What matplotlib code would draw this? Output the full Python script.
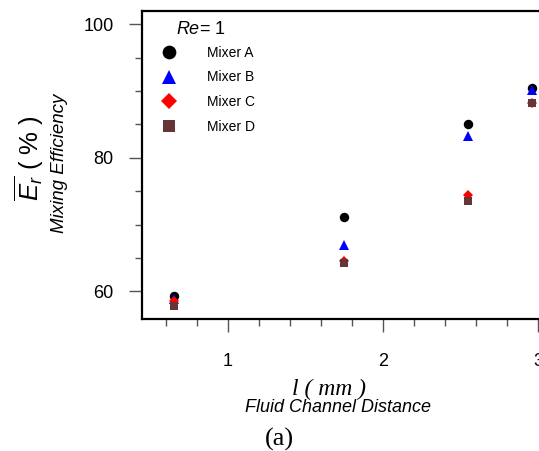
import matplotlib
matplotlib.use('Agg')
import matplotlib.pyplot as plt
from matplotlib.ticker import MultipleLocator

plt.rcParams['font.family'] = ['Liberation Sans', 'DejaVu Sans']
plt.rcParams['mathtext.fontset'] = 'custom'
plt.rcParams['mathtext.rm'] = 'Liberation Sans'
plt.rcParams['mathtext.it'] = 'Liberation Sans:italic'

# channel distance (mm) and mixing efficiency (%) at Re = 1
dist = [0.65, 1.75, 2.55, 2.96]
mixer_a = [59.3, 71.1, 85.0, 90.5]
mixer_b = [58.9, 66.9, 83.2, 90.1]
mixer_c = [58.5, 64.6, 74.5, 88.2]
mixer_d = [57.8, 64.3, 73.5, 88.2]
names = ['Mixer A', 'Mixer B', 'Mixer C', 'Mixer D']

W, H = 539, 451
fig = plt.figure(figsize=(W / 100, H / 100), dpi=100)
ax = fig.add_axes([142 / W, (H - 318.7) / H, 1 - 142 / W, (318.7 - 11) / H])

series = [mixer_a, mixer_b, mixer_c, mixer_d]
marks = ['o', '^', 'D', 's']
cols = ['black', '#0000ff', '#ff0000', '#663535']
sizes = [6.8, 6.5, 5.5, 6.3]
for ys, m, c, s, n in zip(series, marks, cols, sizes, names):
    ax.plot(dist, ys, linestyle='none', marker=m, color=c, markersize=s,
            markeredgewidth=0, label=n, clip_on=False)

ax.set_xlim(0.445, 3.006)
ax.set_ylim(55.9, 102)
ax.xaxis.set_major_locator(MultipleLocator(1))
ax.xaxis.set_minor_locator(MultipleLocator(0.2))
ax.yaxis.set_major_locator(MultipleLocator(20))
ax.yaxis.set_minor_locator(MultipleLocator(5))
ax.tick_params(which='major', length=9.4, width=1, color='#555555',
               labelsize=13, direction='out')
ax.tick_params(axis='x', which='major', pad=15)
ax.tick_params(axis='y', which='major', pad=11)
ax.tick_params(which='minor', length=5, width=1, color='#555555', direction='out')
for side in ['left', 'bottom', 'top']:
    ax.spines[side].set_linewidth(1.6)
ax.spines['right'].set_visible(False)

leg = ax.legend(loc='upper left', bbox_to_anchor=(0.019, 0.905), frameon=False,
                fontsize=10, markerscale=1.45, handlelength=2.0,
                handletextpad=1.75, labelspacing=0.77, borderaxespad=0)
ax.text(0.149, 0.94, '$Re$= 1', transform=ax.transAxes, fontsize=13,
        ha='center', va='center')

fig.text(29 / W, 1 - 158 / H, r'$\overline{E_r}$ ( % )', rotation=90,
         fontsize=18.5, ha='center', va='center')
fig.text(60 / W, 1 - 163 / H, 'Mixing Efficiency', rotation=90, style='italic',
         fontsize=13.5, ha='center', va='center')
fig.text(329 / W, 1 - 389 / H, 'l ( mm )', family='Liberation Serif', style='italic',
         fontsize=17, ha='center', va='center')
fig.text(338 / W, 1 - 407 / H, 'Fluid Channel Distance', style='italic',
         fontsize=13, ha='center', va='center')
fig.text(279 / W, 1 - 439 / H, '(a)', family='Liberation Serif',
         fontsize=19, ha='center', va='center')

fig.savefig('out.png', dpi=100)
